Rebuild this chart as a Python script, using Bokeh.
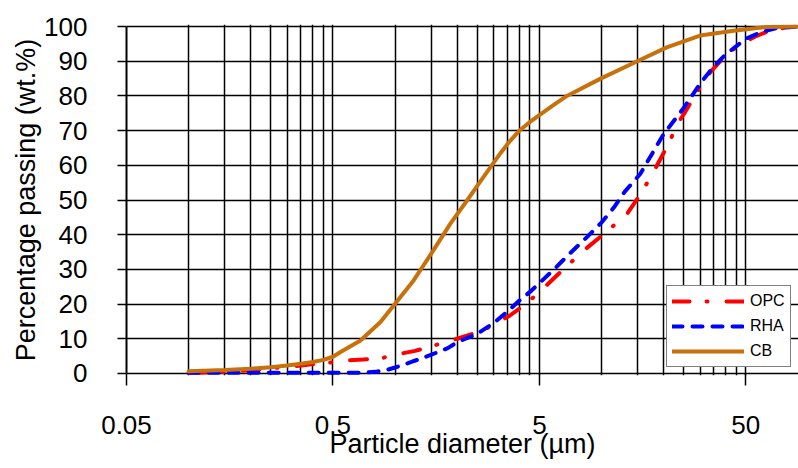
from bokeh.plotting import figure
from bokeh.models import FixedTicker, Legend, LegendItem
from bokeh.embed import file_html
from bokeh.resources import INLINE

# ---- data ----
opc_x = [0.1, 0.15, 0.2, 0.3, 0.35, 0.45, 0.5, 0.6, 0.7, 0.85, 1.0, 1.25, 1.5, 1.85, 2.0,
         2.6, 3.0, 3.6, 4.4, 5.2, 6.8, 8.5, 10.6, 13.3, 15.7, 18.2, 20.9, 23.6, 25.5, 28,
         33.6, 40, 47, 55, 66, 77, 90]
opc_y = [0.1, 0.4, 0.9, 1.9, 2.3, 3.0, 3.2, 3.8, 4.0, 4.3, 5.4, 6.5, 7.8, 9.5, 10.0,
         12.2, 14.0, 16.7, 20.5, 24.4, 31.0, 36.2, 40.9, 46.0, 52.3, 59.0, 65.7, 72.4, 75.5,
         79.6, 86.8, 91.8, 94.8, 97.0, 99.0, 99.6, 100.0]

rha_x = [0.1, 0.2, 0.3, 0.5, 0.6, 0.7, 0.8, 0.9, 1.0, 1.2, 1.5, 1.8, 2.0, 2.5, 3.0, 3.5,
         4.0, 4.5, 5, 6, 7, 8.5, 10, 11.5, 13, 15.4, 20, 25, 30, 35, 40, 50, 60, 70, 90]
rha_y = [0.2, 0.2, 0.2, 0.2, 0.2, 0.2, 0.45, 0.9, 1.7, 3.3, 5.4, 7.3, 9.0, 11.4, 14.5, 17.8,
         21.0, 23.5, 26.0, 30.5, 34.5, 39.3, 43.5, 47.9, 52.5, 57.5, 69.0, 76.5, 83.5, 88.5,
         92.0, 96.5, 98.5, 99.5, 100.0]

cb_x = [0.1, 0.15, 0.2, 0.25, 0.3, 0.35, 0.4, 0.45, 0.5, 0.56, 0.68, 0.85, 1.0, 1.23, 1.53,
        1.85, 2.24, 2.6, 2.9, 3.24, 3.6, 3.97, 4.5, 5.0, 5.8, 6.8, 9.9, 14.9, 20.7, 30, 43.6,
        63, 90]
cb_y = [0.6, 1.0, 1.35, 1.8, 2.3, 2.8, 3.3, 3.9, 4.8, 6.6, 9.5, 14.8, 20.1, 26.8, 35.4,
        43.1, 50.0, 55.5, 59.5, 63.5, 67.0, 69.8, 72.5, 74.5, 77.2, 80.0, 85.0, 90.0, 94.0,
        97.4, 98.8, 99.9, 100.0]

x_major = [0.05, 0.5, 5, 50]
x_labels = ["0.05", "0.5", "5", "50"]
x_minor = [round(m * k, 6) for m in (0.05, 0.5, 5) for k in range(2, 10)]
y_ticks = list(range(0, 101, 10))

FONT = "Liberation Sans"

p = figure(width=798, height=468, x_axis_type="log",
           x_range=(0.05, 90), y_range=(-0.6, 100.6),
           output_backend="svg", toolbar_location=None,
           min_border_left=126, min_border_right=0, min_border_top=24, min_border_bottom=93)
p.outline_line_color = None
p.background_fill_color = "white"

xt = FixedTicker(ticks=x_major, minor_ticks=x_minor)
p.xaxis.ticker = xt
p.xgrid.ticker = xt
p.xaxis.major_label_overrides = dict(zip(x_major, x_labels))
p.xgrid.grid_line_color = "black"
p.xgrid.grid_line_width = 1.5
p.xgrid.minor_grid_line_color = "black"
p.xgrid.minor_grid_line_width = 1.5

yt = FixedTicker(ticks=y_ticks, minor_ticks=[])
p.yaxis.ticker = yt
p.ygrid.ticker = yt
p.ygrid.grid_line_color = "black"
p.ygrid.grid_line_width = 1.5

ax = p.xaxis[0]
ax.axis_line_color = None
ax.major_tick_in = 2
ax.major_tick_out = 10
ax.major_tick_line_width = 1.5
ax.minor_tick_out = 0
ax.minor_tick_in = 0
ax.major_label_standoff = 30
ax.major_label_text_font = FONT
ax.major_label_text_font_size = "26px"
ax.major_label_text_color = "black"
ax.axis_label = "Particle diameter (µm)"
ax.axis_label_text_font = FONT
ax.axis_label_text_font_size = "27px"
ax.axis_label_text_font_style = "normal"
ax.axis_label_text_color = "black"
ax.axis_label_standoff = -8

ay = p.yaxis[0]
ay.bounds = (0, 100)
ay.axis_line_color = "black"
ay.axis_line_width = 2
ay.major_tick_in = 0
ay.major_tick_out = 9
ay.major_tick_line_width = 1.5
ay.minor_tick_out = 0
ay.minor_tick_in = 0
ay.major_label_standoff = 30
ay.major_label_text_font = FONT
ay.major_label_text_font_size = "26px"
ay.major_label_text_color = "black"
ay.axis_label = "Percentage passing (wt.%)"
ay.axis_label_text_font = FONT
ay.axis_label_text_font_size = "27px"
ay.axis_label_text_font_style = "normal"
ay.axis_label_text_color = "black"
ay.axis_label_standoff = 0

r_opc = p.line(opc_x, opc_y, line_color="#FF0000", line_width=4, line_dash="17 17 1 19",
               line_cap="round")
r_rha = p.line(rha_x, rha_y, line_color="#0000FF", line_width=4, line_dash="10 10",
               line_cap="round")
r_cb = p.line(cb_x, cb_y, line_color="#C8700A", line_width=4, line_cap="round")

legend = Legend(items=[LegendItem(label="OPC", renderers=[r_opc]),
                       LegendItem(label="RHA", renderers=[r_rha]),
                       LegendItem(label="CB", renderers=[r_cb])],
                location=(540, 8))
legend.label_text_font = FONT
legend.label_text_font_size = "16px"
legend.label_text_color = "black"
legend.glyph_width = 72
legend.glyph_height = 20
legend.label_height = 20
legend.label_standoff = 6
legend.spacing = 5
legend.padding = 5
legend.margin = 0
legend.border_line_color = "black"
legend.border_line_width = 1.5
legend.background_fill_color = "white"
legend.background_fill_alpha = 1.0
p.add_layout(legend, "center")

open("out.html", "w").write(file_html(p, INLINE))
